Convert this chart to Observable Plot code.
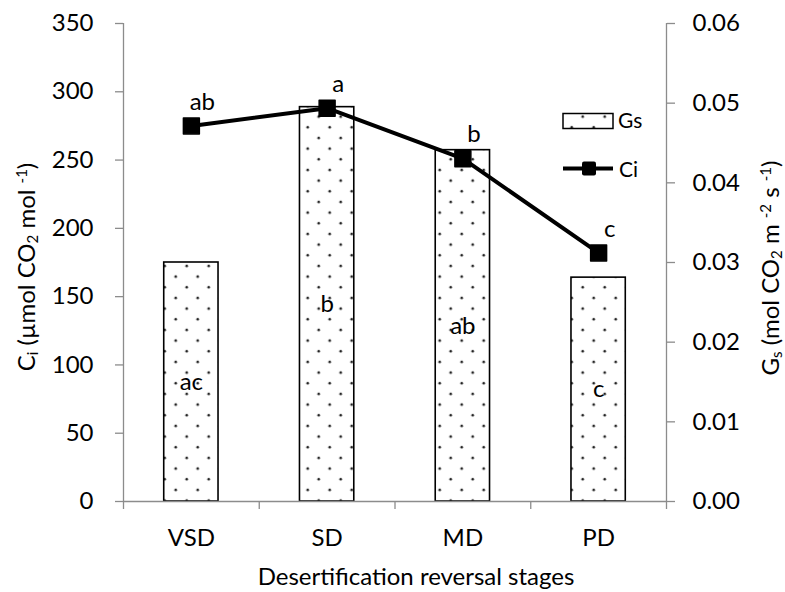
<!DOCTYPE html>
<html>
<head>
<meta charset="utf-8">
<script src="https://cdn.jsdelivr.net/npm/d3@7"></script>
<script src="https://cdn.jsdelivr.net/npm/@observablehq/plot@0.6"></script>
<style>
  html, body { margin: 0; padding: 0; background: #fff; }
  svg text { font-family: Lato, "Open Sans", sans-serif; }
</style>
</head>
<body>
<script>
// Desertification reversal stages
const stages = ["VSD", "SD", "MD", "PD"];
// Intercellular CO2 concentration, Ci (µmol CO2 mol-1), left axis
const ciValues = [275, 288, 251, 182];
// Stomatal conductance, Gs (mol CO2 m-2 s-1), right axis
const gsValues = [0.0300, 0.0495, 0.0441, 0.0281];
// Significance letters
const ciLetters = ["ab", "a", "b", "c"];
const gsLetters = ["ac", "b", "ab", "c"];
// Tick values
const ciTicks = [0, 50, 100, 150, 200, 250, 300, 350];
const gsTicks = [0, 0.01, 0.02, 0.03, 0.04, 0.05, 0.06];

const ciMax = 350, gsMax = 0.06;
const toLeft = v => v * ciMax / gsMax;   // map Gs onto the Ci scale

const rows = stages.map((s, i) => ({
  stage: s, pos: i + 0.5, ci: ciValues[i], gs: gsValues[i],
  ciLetter: ciLetters[i], gsLetter: gsLetters[i]
}));

const axisGray = "#8c8c8c";
const barHalf = 0.2;
const fs = 24;

const chart = Plot.plot({
  width: 785,
  height: 592,
  marginTop: 23,
  marginBottom: 91,
  marginLeft: 123,
  marginRight: 119,
  style: { background: "white", color: "black", fontFamily: "Lato", fontSize: fs + "px", overflow: "visible" },
  x: { type: "linear", domain: [0, stages.length] },
  y: { domain: [0, ciMax] },
  marks: [
    // Gs bars with dotted fill
    Plot.rectY(rows, {
      x1: d => d.pos - barHalf, x2: d => d.pos + barHalf,
      y1: 0, y2: d => toLeft(d.gs),
      fill: "url(#dots)", stroke: "black", strokeWidth: 1.6
    }),
    // axis lines
    Plot.ruleX([0, stages.length], { stroke: axisGray, strokeWidth: 1.3 }),
    Plot.ruleY([0], { stroke: axisGray, strokeWidth: 1.3 }),
    // left axis (Ci)
    Plot.axisY(ciTicks, {
      anchor: "left", tickSize: 8, tickPadding: 22, stroke: axisGray, strokeWidth: 1.3,
      fontSize: fs, label: null
    }),
    // right axis (Gs)
    Plot.axisY(gsTicks.map(toLeft), {
      anchor: "right", tickSize: 8, tickPadding: 18, stroke: axisGray, strokeWidth: 1.3,
      fontSize: fs, label: null,
      tickFormat: v => (v * gsMax / ciMax).toFixed(2)
    }),
    // category boundary ticks
    Plot.axisX(d3.range(stages.length + 1), {
      anchor: "bottom", tickSize: 8, stroke: axisGray, strokeWidth: 1.3,
      tickFormat: () => "", label: null
    }),
    // category labels
    Plot.axisX(rows.map(d => d.pos), {
      anchor: "bottom", tickSize: 0, tickPadding: 27, fontSize: fs, label: null,
      tickFormat: v => stages[Math.floor(v)]
    }),
    // Gs letters at mid-height of bars
    Plot.text(rows, { x: "pos", y: d => toLeft(d.gs) / 2, text: "gsLetter", fontSize: fs }),
    // Ci line with square markers
    Plot.line(rows, { x: "pos", y: "ci", stroke: "black", strokeWidth: 4 }),
    Plot.dot(rows, {
      x: "pos", y: "ci", symbol: "square", r: 9, fill: "black",
      stroke: "black", strokeWidth: 1.5, strokeLinejoin: "round"
    }),
    Plot.text(rows, { x: "pos", y: "ci", text: "ciLetter", dx: 11, dy: -24, fontSize: fs })
  ]
});

document.body.appendChild(chart);

const svg = d3.select(chart);

// dotted pattern for the bars
const pat = svg.insert("defs", ":first-child")
  .append("pattern")
  .attr("id", "dots")
  .attr("patternUnits", "userSpaceOnUse")
  .attr("x", 5.7).attr("y", 5)
  .attr("width", 22).attr("height", 21.33);
pat.append("rect").attr("width", 22).attr("height", 21.33).attr("fill", "white");
pat.append("circle").attr("cx", 5).attr("cy", 5).attr("r", 1.3).attr("fill", "#222");
pat.append("circle").attr("cx", 16).attr("cy", 15.67).attr("r", 1.3).attr("fill", "#222");

// axis titles
const titles = svg.append("g")
  .attr("font-family", "Lato").attr("font-size", fs).attr("fill", "black");

titles.append("text")
  .attr("x", 416).attr("y", 585)
  .attr("text-anchor", "middle")
  .text("Desertification reversal stages");

function addTitle(x, y, parts) {
  const t = titles.append("text")
    .attr("transform", `translate(${x},${y}) rotate(-90)`)
    .attr("text-anchor", "middle");
  for (const [str, kind] of parts) {
    const sp = t.append("tspan").text(str);
    if (kind === "sub") sp.attr("font-size", 15).attr("baseline-shift", "-22%");
    if (kind === "sup") sp.attr("font-size", 15).attr("baseline-shift", "55%");
  }
}

addTitle(35, 267, [["C"], ["i", "sub"], [" (µmol CO"], ["2", "sub"], [" mol "], ["-1", "sup"], [")"]]);
addTitle(779, 268, [["G"], ["s", "sub"], [" (mol CO"], ["2", "sub"], [" m "], ["-2", "sup"], [" s "], ["-1", "sup"], [")"]]);

// legend
const leg = svg.append("g")
  .attr("font-family", "Lato").attr("font-size", 21).attr("fill", "black")
  .attr("text-anchor", "start");
leg.append("rect")
  .attr("x", 563).attr("y", 113.5).attr("width", 50).attr("height", 15)
  .attr("fill", "url(#dots)").attr("stroke", "black").attr("stroke-width", 1.5);
leg.append("text").attr("x", 618).attr("y", 128).text("Gs");
leg.append("line")
  .attr("x1", 563).attr("x2", 613).attr("y1", 168.5).attr("y2", 168.5)
  .attr("stroke", "black").attr("stroke-width", 4);
leg.append("rect")
  .attr("x", 582).attr("y", 161.5).attr("width", 14).attr("height", 14).attr("rx", 2)
  .attr("fill", "black");
leg.append("text").attr("x", 619).attr("y", 177).text("Ci");
</script>
</body>
</html>
